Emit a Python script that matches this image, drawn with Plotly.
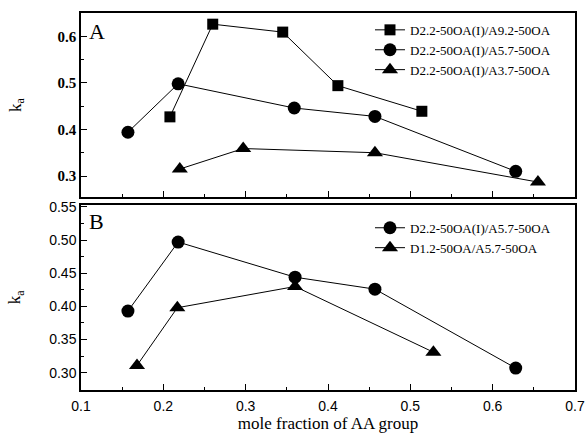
import plotly.graph_objects as go

# Panel A data
sq_x = [0.208, 0.260, 0.345, 0.412, 0.514]
sq_y = [0.427, 0.626, 0.609, 0.494, 0.439]
ci_x = [0.157, 0.218, 0.359, 0.457, 0.628]
ci_y = [0.394, 0.498, 0.446, 0.428, 0.310]
tr_x = [0.220, 0.297, 0.457, 0.655]
tr_y = [0.315, 0.359, 0.350, 0.287]

# Panel B data
b_ci_x = [0.157, 0.218, 0.360, 0.457, 0.628]
b_ci_y = [0.393, 0.497, 0.444, 0.426, 0.307]
b_tr_x = [0.168, 0.217, 0.360, 0.528]
b_tr_y = [0.311, 0.398, 0.430, 0.331]

names_a = ["D2.2-50OA(I)/A9.2-50OA", "D2.2-50OA(I)/A5.7-50OA", "D2.2-50OA(I)/A3.7-50OA"]
names_b = ["D2.2-50OA(I)/A5.7-50OA", "D1.2-50OA/A5.7-50OA"]

fig = go.Figure()
line = dict(color="black", width=1)
fig.add_trace(go.Scatter(x=sq_x, y=sq_y, mode="lines+markers", name=names_a[0], line=line,
                         marker=dict(symbol="square", size=11, color="black"), xaxis="x", yaxis="y", legend="legend"))
fig.add_trace(go.Scatter(x=ci_x, y=ci_y, mode="lines+markers", name=names_a[1], line=line,
                         marker=dict(symbol="circle", size=13, color="black"), xaxis="x", yaxis="y", legend="legend"))
fig.add_trace(go.Scatter(x=tr_x, y=tr_y, mode="lines+markers", name=names_a[2], line=line,
                         marker=dict(symbol="triangle-up", size=14, color="black"), xaxis="x", yaxis="y", legend="legend"))
fig.add_trace(go.Scatter(x=b_ci_x, y=b_ci_y, mode="lines+markers", name=names_b[0], line=line,
                         marker=dict(symbol="circle", size=13, color="black"), xaxis="x2", yaxis="y2", legend="legend2"))
fig.add_trace(go.Scatter(x=b_tr_x, y=b_tr_y, mode="lines+markers", name=names_b[1], line=line,
                         marker=dict(symbol="triangle-up", size=14, color="black"), xaxis="x2", yaxis="y2", legend="legend2"))

serif = "Liberation Serif, Times New Roman"
sans = "Liberation Sans, Arial"
tickfont = dict(family=sans, size=14, color="black")
common_x = dict(range=[0.1, 0.7], dtick=0.1, ticks="inside", ticklen=6, tickwidth=1, tickcolor="black",
                showline=True, linecolor="black", linewidth=1.5, mirror=True, showgrid=False, zeroline=False,
                minor=dict(ticks="inside", ticklen=3, dtick=0.05, tickcolor="black", showgrid=False),
                tickfont=tickfont, automargin=False)
common_y = dict(ticks="inside", ticklen=6, tickwidth=1, tickcolor="black", automargin=False,
                showline=True, linecolor="black", linewidth=1.5, mirror=True, showgrid=False, zeroline=False)

fig.update_layout(
    width=587, height=433,
    margin=dict(l=81, r=12, t=13, b=43),
    paper_bgcolor="white", plot_bgcolor="white",
    xaxis=dict(**common_x, domain=[0, 1], anchor="y", showticklabels=False),
    yaxis=dict(**common_y, domain=[0.512, 1], anchor="x", range=[0.255, 0.65], dtick=0.1, tickformat=".1f",
               tickfont=dict(family=serif, size=15, color="black", weight="bold"),
               minor=dict(ticks="inside", ticklen=3, dtick=0.05, tickcolor="black", showgrid=False),
               title=dict(text="k<sub>a</sub>", font=dict(family=serif, size=17, color="black"), standoff=32)),
    xaxis2=dict(**common_x, domain=[0, 1], anchor="y2", ticklabelstandoff=2,
                title=dict(text="mole fraction of AA group", font=dict(family=serif, size=17, color="black"), standoff=4)),
    yaxis2=dict(**common_y, domain=[0, 0.491], anchor="x2", range=[0.274, 0.553], dtick=0.05, tickformat=".2f",
                tickfont=tickfont,
                minor=dict(ticks="inside", ticklen=3, dtick=0.025, tickcolor="black", showgrid=False),
                title=dict(text="k<sub>a</sub>", font=dict(family=serif, size=17, color="black"), standoff=24)),
    legend=dict(x=0.585, y=0.995, xanchor="left", yanchor="top", bgcolor="rgba(0,0,0,0)",
                font=dict(family=serif, size=13, color="black"), tracegroupgap=0, itemwidth=30),
    legend2=dict(x=0.585, y=0.47, xanchor="left", yanchor="top", bgcolor="rgba(0,0,0,0)",
                 font=dict(family=serif, size=13, color="black"), tracegroupgap=0, itemwidth=30),
    annotations=[
        dict(text="A", xref="paper", yref="paper", x=0.012, y=0.99, xanchor="left", yanchor="top",
             showarrow=False, font=dict(family=serif, size=22, color="black")),
        dict(text="B", xref="paper", yref="paper", x=0.012, y=0.485, xanchor="left", yanchor="top",
             showarrow=False, font=dict(family=serif, size=22, color="black")),
    ],
)

fig.write_html("out.html")
